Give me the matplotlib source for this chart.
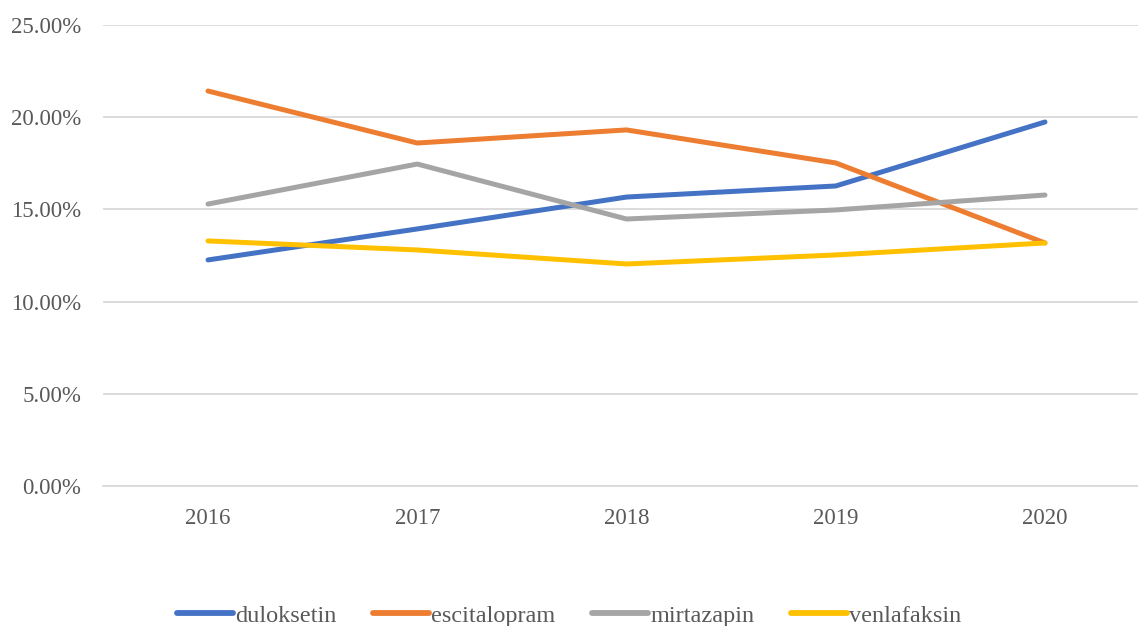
import matplotlib.pyplot as plt
from matplotlib.ticker import FuncFormatter

years = ['2016', '2017', '2018', '2019', '2020']
duloksetin = [12.26, 13.94, 15.67, 16.27, 19.74]
escitalopram = [21.42, 18.60, 19.31, 17.52, 13.18]
mirtazapin = [15.29, 17.46, 14.48, 14.97, 15.78]
venlafaksin = [13.29, 12.80, 12.04, 12.53, 13.18]

plt.rcParams['font.family'] = ['Liberation Serif', 'DejaVu Serif']

fig = plt.figure(figsize=(11.38, 6.26), dpi=100)
# axes runs a little past the right edge, like the original crop
ax = fig.add_axes([103.4 / 1138, 1 - 486 / 626, 1046.2 / 1138, 461 / 626])

x = range(len(years))
ax.plot(x, duloksetin, color='#4472C4', lw=3.6, label='duloksetin', solid_capstyle='round')
ax.plot(x, escitalopram, color='#ED7D31', lw=3.6, label='escitalopram', solid_capstyle='round')
ax.plot(x, mirtazapin, color='#A5A5A5', lw=3.6, label='mirtazapin', solid_capstyle='round')
ax.plot(x, venlafaksin, color='#FFC000', lw=3.6, label='venlafaksin', solid_capstyle='round')

ax.set_xlim(-0.5, 4.5)
ax.set_ylim(0, 25)
ax.set_yticks([0, 5, 10, 15, 20, 25])
ax.yaxis.set_major_formatter(FuncFormatter(lambda v, p: '%.2f%%' % v))
ax.set_xticks(list(x))
ax.set_xticklabels(years)
ax.grid(axis='y', color='#D9D9D9', lw=1.3)
ax.set_axisbelow(True)
for s in ax.spines.values():
    s.set_visible(False)
ax.spines['bottom'].set_visible(True)
ax.spines['bottom'].set_color('#D9D9D9')
ax.spines['bottom'].set_linewidth(1.3)
ax.tick_params(length=0, labelsize=16.5, colors='#595959', pad=16)
ax.tick_params(axis='y', pad=16)

leg = fig.legend(loc='center', bbox_to_anchor=(0.5, 0.016), ncol=4, frameon=False,
                 fontsize=17.5, handlelength=2.3, handletextpad=0.1, columnspacing=1.5)
for t in leg.get_texts():
    t.set_color('#595959')
for h in leg.legend_handles:
    h.set_linewidth(4.2)

fig.savefig('out.png', dpi=100)
